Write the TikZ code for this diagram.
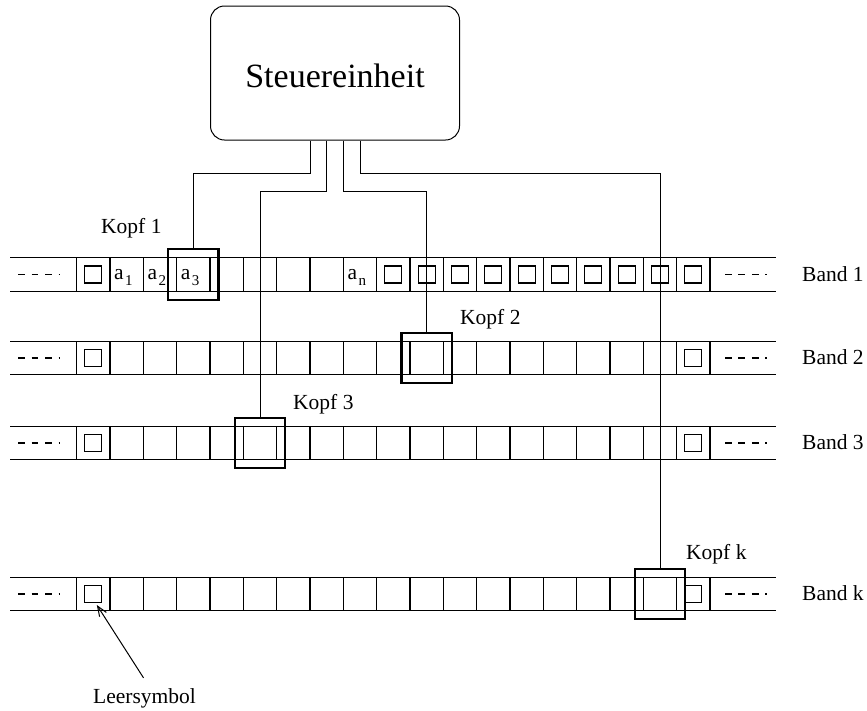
\documentclass[tikz,border=0pt]{standalone}
\usepackage{fontspec}
\setmainfont{Liberation Serif}
\usetikzlibrary{arrows.meta}
\newcommand\mysub[1]{\hspace{1.5pt}\raisebox{-6pt}{\fontsize{15}{15}\selectfont #1}}
\begin{document}
\begin{tikzpicture}[x=1pt,y=-1pt,
  tapeline/.style={line width=1.2pt},
  cellline/.style={line width=1.1pt},
  blank/.style={draw,line width=1.1pt,minimum width=17pt,minimum height=17pt,inner sep=0pt,outer sep=0pt},
  head/.style={draw,line width=2.3pt,minimum width=50.5pt,minimum height=50.5pt,inner sep=0pt},
  conn/.style={line width=1pt},
  lbl/.style={font=\fontsize{21.5}{24}\selectfont,inner sep=0pt,anchor=base west},
  dotline/.style={line width=1.1pt,dash pattern=on 6.7pt off 6.7pt}
]
\useasboundingbox (0,0) rectangle (867,710);

% tapes
\foreach \nm/\yc in {1/274.5,2/358,3/443,k/594}{
  \draw[tapeline] (10,{\yc-16.75}) -- (776,{\yc-16.75});
  \draw[tapeline] (10,{\yc+16.75}) -- (776,{\yc+16.75});
  \foreach \i in {0,...,19}
    \draw[cellline] ({76.67+33.333*\i},{\yc-16.75}) -- ++(0,33.5);
  \draw[dotline] (18.3,\yc) -- (60,\yc);
  \draw[dotline] (725,\yc) -- (766.7,\yc);
  \node[lbl] (band\nm) at (802,{\yc+6.8}) {Band \nm};
  \node[blank] (e\nm-0) at (93.33,\yc) {};
  \node[blank] (e\nm-18) at ({93.33+33.333*18},\yc) {};
}
\foreach \i in {9,...,17}
  \node[blank] (e1-\i) at ({93.33+33.333*\i},274.5) {};

% symbols on band 1
\node[lbl] (a1) at (114,279) {a\mysub{1}};
\node[lbl] (a2) at (147.3,279) {a\mysub{2}};
\node[lbl] (a3) at (180.7,279) {a\mysub{3}};
\node[lbl] (an) at (347.3,279) {a\mysub{n}};

% control unit
\node[draw,rounded corners=14pt,line width=1pt,minimum width=249pt,minimum height=134pt,
      font=\fontsize{34}{36}\selectfont,text height=28pt,text depth=0pt] (S) at (335,73) {Steuereinheit};

% heads
\node[head] (h1) at (193.33,274.5) {};
\node[head] (h2) at (426.67,358) {};
\node[head] (h3) at (260,443) {};
\node[head] (hk) at (660,594) {};

% connectors
\draw[conn] ([xshift=-25pt]S.south) -- ++(0,33) -| (h1.north);
\draw[conn] ([xshift=-8.33pt]S.south) -- ++(0,51) -| (h3.north);
\draw[conn] ([xshift=8.33pt]S.south) -- ++(0,51) -| (h2.north);
\draw[conn] ([xshift=25pt]S.south) -- ++(0,33) -| (hk.north);

% head labels
\node[lbl] (k1) at (101,233.5) {Kopf 1};
\node[lbl] (k2) at (460,324) {Kopf 2};
\node[lbl] (k3) at (293,409) {Kopf 3};
\node[lbl] (kk) at (686,559) {Kopf k};

% blank symbol
\node[lbl] (leer) at (93,703) {Leersymbol};
\draw[conn,-{Straight Barb[length=10pt,width=8pt]}] ([xshift=-1pt,yshift=10pt]leer.north) -- ([xshift=-5pt,yshift=-2.5pt]ek-0.south east);
\end{tikzpicture}
\end{document}
